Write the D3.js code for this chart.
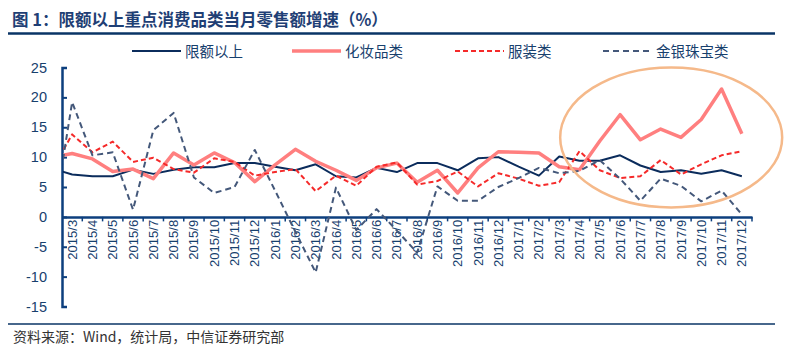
<!DOCTYPE html>
<html>
<head>
<meta charset="utf-8">
<script src="https://cdn.jsdelivr.net/npm/d3@7"></script>
<style>
  body { margin: 0; background: #fff; }
  svg { display: block; font-family: "Liberation Sans", Arial, "Noto Sans CJK SC", sans-serif; }
</style>
</head>
<body>
<div id="chart"></div>
<script>
// month labels (x axis)
const months = [
  "2015/3", "2015/4", "2015/5", "2015/6", "2015/7", "2015/8", "2015/9", "2015/10", "2015/11", "2015/12",
  "2016/1", "2016/2", "2016/3", "2016/4", "2016/5", "2016/6", "2016/7", "2016/8", "2016/9", "2016/10", "2016/11", "2016/12",
  "2017/1", "2017/2", "2017/3", "2017/4", "2017/5", "2017/6", "2017/7", "2017/8", "2017/9", "2017/10", "2017/11", "2017/12"
];
const yTicks = [-15, -10, -5, 0, 5, 10, 15, 20, 25];

// series values, % yoy
const totalAbove = [7.1, 6.8, 6.8, 7.9, 7.2, 7.9, 8.3, 8.3, 9.0, 9.0,
  8.4, 7.8, 8.8, 6.8, 6.6, 8.2, 7.5, 9.0, 9.0, 7.8, 9.8, 10.0,
  8.4, 6.9, 10.1, 9.4, 9.4, 10.3, 8.6, 7.5, 7.8, 7.2, 7.8, 6.8];
const cosmetics = [10.6, 9.7, 7.6, 8.0, 6.4, 10.7, 8.7, 10.7, 9.1, 5.9,
  8.7, 11.3, 9.3, 7.8, 6.1, 8.2, 9.0, 5.8, 7.8, 4.0, 8.2, 10.9,
  10.8, 10.7, 8.4, 7.9, 12.7, 17.1, 12.9, 14.7, 13.3, 16.3, 21.4, 13.9];
const clothing = [13.8, 10.8, 12.6, 9.2, 9.9, 8.0, 7.4, 9.8, 9.2, 6.9,
  7.5, 8.0, 4.3, 6.9, 5.2, 8.4, 9.1, 5.4, 6.0, 7.6, 5.1, 7.3,
  6.4, 5.2, 5.8, 11.0, 7.8, 6.5, 6.8, 9.5, 7.1, 8.8, 10.3, 11.0];
const jewelry = [19.2, 10.3, 10.8, 1.2, 14.5, 17.4, 6.6, 4.0, 5.0, 11.2,
  4.4, -2.5, -9.3, 4.9, -2.2, 1.3, -2.3, -6.0, 5.1, 2.7, 2.7, 5.0,
  6.5, 8.2, 7.3, 7.7, 9.5, 6.4, 2.7, 6.4, 5.2, 2.6, 4.4, 0.4];
// 2015/2 values: only the part right of the y axis shows
const prevMonth = { total: 8.1, cosmetics: 10.0, clothing: 7.8, jewelry: -2.0 };

const seriesList = [
  { name: "限额以上", values: totalAbove, lead: prevMonth.total, color: "#0b2c5c", width: 2, dash: null },
  { name: "化妆品类", values: cosmetics, lead: prevMonth.cosmetics, color: "#ff7f7f", width: 3.5, dash: null },
  { name: "服装类", values: clothing, lead: prevMonth.clothing, color: "#f52a2a", width: 2, dash: "5,3" },
  { name: "金银珠宝类", values: jewelry, lead: prevMonth.jewelry, color: "#44587a", width: 2, dash: "6,4" }
];

const width = 792, height = 354;
const axisColor = "#0d3f7e";
const textColor = "#17406d";

const svg = d3.select("#chart").append("svg")
  .attr("width", width)
  .attr("height", height);

// title + rules
svg.append("text")
  .attr("x", 12).attr("y", 26)
  .attr("font-family", "'Noto Sans CJK SC', sans-serif")
  .attr("font-size", 16.5).attr("font-weight", "bold")
  .attr("fill", "#1f3f75")
  .text("图 1：限额以上重点消费品类当月零售额增速（%）");
svg.append("line")
  .attr("x1", 8).attr("x2", 775).attr("y1", 33.5).attr("y2", 33.5)
  .attr("stroke", "#0a3466").attr("stroke-width", 2.5);
svg.append("line")
  .attr("x1", 8).attr("x2", 775).attr("y1", 324).attr("y2", 324)
  .attr("stroke", "#0a3466").attr("stroke-width", 1.5);
svg.append("text")
  .attr("x", 13).attr("y", 342)
  .attr("font-family", "'Noto Sans CJK SC', sans-serif")
  .attr("font-size", 14).attr("fill", "#333")
  .text("资料来源：Wind，统计局，中信证券研究部");

// scales
const x = d3.scaleBand().domain(months).range([62, 752]).paddingInner(0).paddingOuter(0);
const bw = x.bandwidth();
const cx = m => x(m) + bw / 2;
const y = d3.scaleLinear().domain([-15, 25]).range([306.5, 67.5]);

// y axis
const yAxis = svg.append("g")
  .attr("transform", "translate(62,0)")
  .call(d3.axisRight(y).tickValues(yTicks).tickSize(5).tickFormat(""));
yAxis.select(".domain").attr("stroke", axisColor).attr("stroke-width", 2.5);
yAxis.selectAll(".tick line").attr("stroke", axisColor).attr("stroke-width", 2);
svg.append("g").selectAll("text")
  .data(yTicks).join("text")
  .attr("x", 47).attr("y", d => y(d) + 5)
  .attr("text-anchor", "end")
  .attr("font-size", 14.5).attr("fill", textColor)
  .text(d => d);

// x axis at zero
const xAxis = svg.append("g")
  .attr("transform", `translate(0,${y(0)})`)
  .call(d3.axisBottom(x).tickSize(0).tickSizeOuter(0));
xAxis.select(".domain").attr("stroke", axisColor).attr("stroke-width", 2.5);
xAxis.selectAll(".tick text")
  .attr("transform", "rotate(-90)")
  .attr("x", -3).attr("y", 0).attr("dy", "0.35em")
  .attr("text-anchor", "end")
  .attr("font-family", "'Liberation Sans', Arial, sans-serif")
  .attr("font-size", 13).attr("fill", textColor);
svg.append("g").selectAll("line")
  .data(months.slice(1).concat(["end"])).join("line")
  .attr("x1", d => d === "end" ? 752 : x(d)).attr("x2", d => d === "end" ? 752 : x(d))
  .attr("y1", y(0)).attr("y2", y(0) + 4.5)
  .attr("stroke", axisColor).attr("stroke-width", 1.5);

// clip so the 2015/2 lead segment stops at the y axis
svg.append("clipPath").attr("id", "plot-clip")
  .append("rect").attr("x", 63).attr("y", 40).attr("width", 700).attr("height", 280);

const line = d3.line().x(d => d.x).y(d => y(d.v));
const plot = svg.append("g").attr("clip-path", "url(#plot-clip)");
seriesList.forEach(s => {
  const pts = [{ x: cx(months[0]) - bw, v: s.lead }]
    .concat(s.values.map((v, i) => ({ x: cx(months[i]), v })));
  plot.append("path")
    .datum(pts)
    .attr("d", line)
    .attr("fill", "none")
    .attr("stroke", s.color)
    .attr("stroke-width", s.width)
    .attr("stroke-linejoin", "round")
    .attr("stroke-dasharray", s.dash);
});

// highlight ellipse round the late-2017 surge
svg.append("ellipse")
  .attr("cx", (x("2017/4") + 752 + 33) / 2 - 6)
  .attr("cy", y(13.3))
  .attr("rx", 111).attr("ry", 70)
  .attr("fill", "none")
  .attr("stroke", "#f5b98a").attr("stroke-width", 2.5);

// legend
const legendX = [132, 292, 455, 603];
const legend = svg.append("g").selectAll("g")
  .data(seriesList).join("g")
  .attr("transform", (d, i) => `translate(${legendX[i]},51)`);
legend.append("line")
  .attr("x1", 0).attr("x2", 49).attr("y1", 0).attr("y2", 0)
  .attr("stroke", d => d.color)
  .attr("stroke-width", d => d.width)
  .attr("stroke-dasharray", d => d.dash);
legend.append("text")
  .attr("x", 53).attr("y", 5.5)
  .attr("font-family", "'Noto Sans CJK SC', sans-serif")
  .attr("font-size", 14.5).attr("fill", textColor)
  .text(d => d.name);
</script>
</body>
</html>
